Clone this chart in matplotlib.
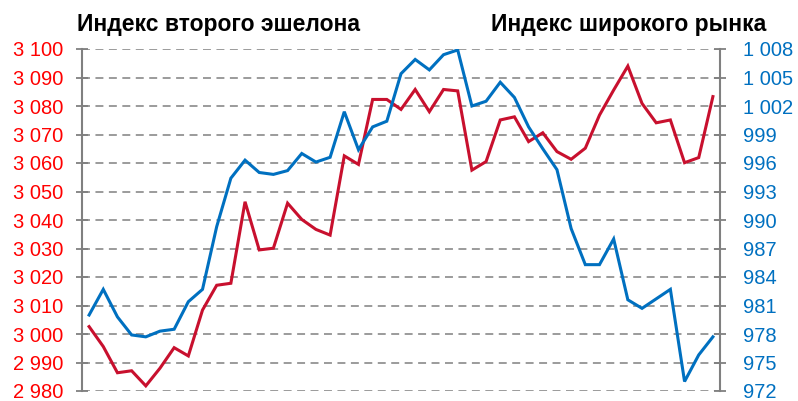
import matplotlib
matplotlib.use("Agg")
import matplotlib.pyplot as plt
from matplotlib.ticker import FuncFormatter

plt.rcParams['font.family'] = ['Liberation Sans', 'DejaVu Sans']

# index values
second_tier = [3002.6, 2995.6, 2986.4, 2987.1, 2981.8, 2988.0, 2995.2, 2992.3, 3008.4, 3017.1,
               3017.8, 3046.4, 3029.5, 3030.1, 3045.9, 3040.2, 3036.7, 3034.7, 3062.5, 3059.5,
               3082.3, 3082.3, 3078.8, 3085.8, 3078.0, 3085.8, 3085.3, 3057.5, 3060.5, 3075.1,
               3076.2, 3067.5, 3070.6, 3064.0, 3061.3, 3065.2, 3076.8, 3085.6, 3094.0, 3080.9,
               3074.1, 3075.1, 3060.1, 3061.9, 3083.3]
broad_market = [980.0, 982.7, 979.8, 977.9, 977.7, 978.3, 978.5, 981.4, 982.7, 989.3,
                994.4, 996.3, 995.0, 994.8, 995.2, 997.0, 996.1, 996.6, 1001.4, 997.4,
                999.8, 1000.4, 1005.4, 1006.9, 1005.8, 1007.4, 1007.9, 1002.0, 1002.5, 1004.5,
                1002.9, 999.8, 997.5, 995.3, 989.1, 985.3, 985.3, 988.0, 981.6, 980.7,
                981.7, 982.7, 973.0, 975.8, 977.7]
left_ticks = list(range(2980, 3101, 10))
right_ticks = list(range(972, 1009, 3))

red = '#C8102E'
blue = '#0070C0'
grey = '#808080'

def spaced(v, pos):
    return '{:,}'.format(int(v)).replace(',', ' ')

fig = plt.figure(figsize=(7.98, 4.01), dpi=100)
ax = fig.add_axes([82 / 798, 10 / 401, (720 - 82) / 798, (391 - 49) / 401])
ax2 = ax.twinx()

x = range(len(second_tier))
ax.plot(x, second_tier, color=red, lw=2.2, solid_joinstyle='miter')
ax2.plot(x, broad_market, color=blue, lw=2.2, solid_joinstyle='miter')

ax.set_xlim(-0.5, len(second_tier) - 0.5)
ax.set_ylim(2980, 3100)
ax2.set_ylim(972, 1008)
ax.set_yticks(left_ticks)
ax2.set_yticks(right_ticks)
ax.yaxis.set_major_formatter(FuncFormatter(spaced))
ax2.yaxis.set_major_formatter(FuncFormatter(spaced))
ax.set_xticks([])

ax.grid(axis='y', color=grey, lw=1.1, linestyle=(0, (5.2, 3.6)))
ax.set_axisbelow(True)

for a in (ax, ax2):
    for s in ('top', 'bottom', 'left', 'right'):
        a.spines[s].set_visible(False)
ax.spines['left'].set_visible(True)
ax.spines['left'].set_color(grey)
ax.spines['left'].set_linewidth(1.5)
ax2.spines['right'].set_visible(True)
ax2.spines['right'].set_color(grey)
ax2.spines['right'].set_linewidth(1.5)

ax.tick_params(axis='y', direction='inout', colors=grey, labelcolor='#FF0000',
               labelsize=14.5, length=9, width=1.3, pad=9)
ax2.tick_params(axis='y', direction='inout', colors=grey, labelcolor=blue,
                labelsize=14.5, length=9, width=1.3, pad=12)

fig.text(77 / 798, 1 - 24 / 401, 'Индекс второго эшелона', fontsize=16.5,
         fontweight='bold', ha='left', va='center')
fig.text(766 / 798, 1 - 24 / 401, 'Индекс широкого рынка', fontsize=16.5,
         fontweight='bold', ha='right', va='center')

fig.savefig('out.png', dpi=100)
